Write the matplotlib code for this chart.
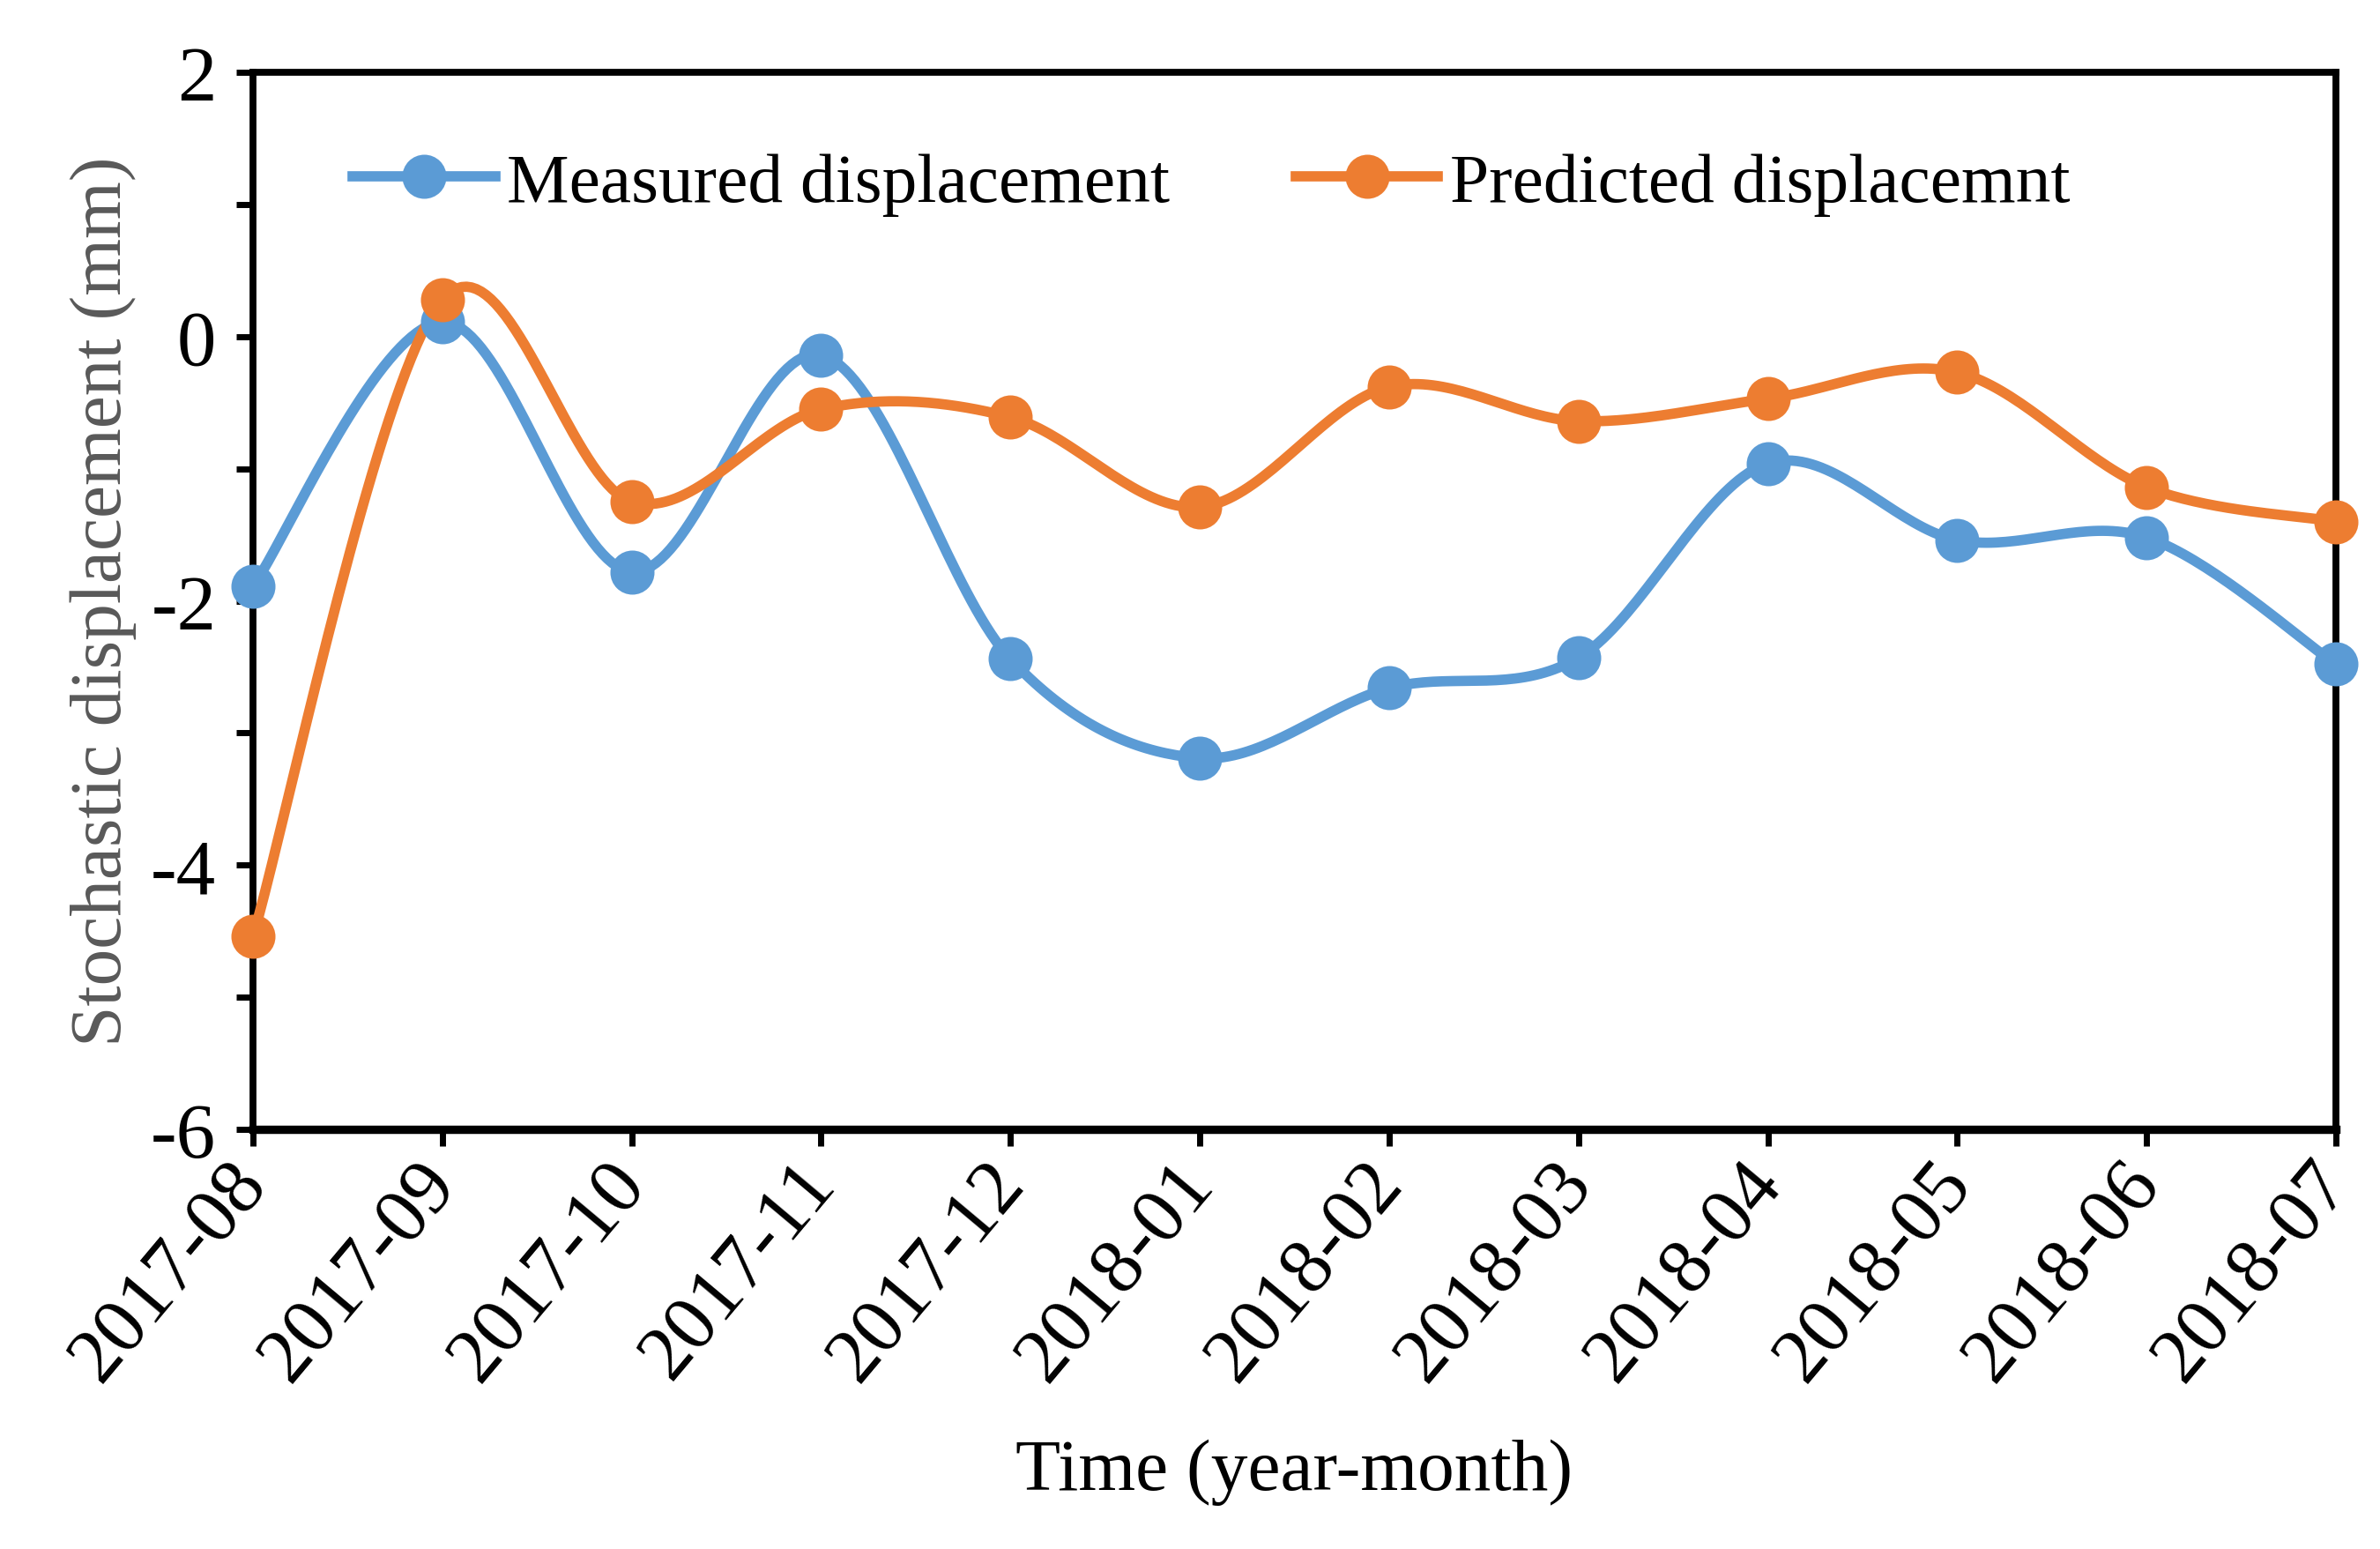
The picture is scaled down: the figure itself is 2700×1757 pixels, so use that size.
import numpy as np
import matplotlib
matplotlib.use("Agg")
import matplotlib.pyplot as plt
from matplotlib.lines import Line2D

months = ["2017-08", "2017-09", "2017-10", "2017-11", "2017-12", "2018-01",
          "2018-02", "2018-03", "2018-04", "2018-05", "2018-06", "2018-07"]
measured = [-1.89, 0.11, -1.78, -0.14, -2.44, -3.19, -2.66, -2.43, -0.96, -1.54, -1.52, -2.48]
predicted = [-4.54, 0.28, -1.25, -0.55, -0.61, -1.29, -0.38, -0.64, -0.47, -0.27, -1.14, -1.40]

blue = "#5B9BD5"
orange = "#ED7D31"


# Excel-like smoothed line (Catmull-Rom through the points)
def smooth(x, y, n=40):
    x = np.asarray(x, float)
    y = np.asarray(y, float)
    px = np.concatenate([[x[0]], x, [x[-1]]])
    py = np.concatenate([[y[0]], y, [y[-1]]])
    xs, ys = [], []
    t = np.linspace(0, 1, n)
    for i in range(1, len(px) - 2):
        p0 = np.array([px[i], py[i]])
        p3 = np.array([px[i + 1], py[i + 1]])
        c1 = p0 + (p3 - np.array([px[i - 1], py[i - 1]])) / 6
        c2 = p3 - (np.array([px[i + 2], py[i + 2]]) - p0) / 6
        b = (((1 - t) ** 3)[:, None] * p0 + (3 * (1 - t) ** 2 * t)[:, None] * c1
             + (3 * (1 - t) * t ** 2)[:, None] * c2 + (t ** 3)[:, None] * p3)
        xs.append(b[:, 0])
        ys.append(b[:, 1])
    return np.concatenate(xs), np.concatenate(ys)


plt.rcParams["font.family"] = ["Liberation Serif", "DejaVu Serif"]
plt.rcParams["axes.unicode_minus"] = False

fig = plt.figure(figsize=(13.5, 8.79), dpi=200)
ax = fig.add_axes([0.1063, 0.2707, 0.8752, 0.6821])

x = np.arange(len(months))
for vals, col in ((measured, blue), (predicted, orange)):
    sx, sy = smooth(x, vals)
    ax.plot(sx, sy, color=col, lw=4.2, solid_capstyle="round", clip_on=False, zorder=3)
    ax.plot(x, vals, "o", color=col, ms=17, clip_on=False, zorder=4)

ax.set_xlim(0, len(months) - 1)
ax.set_ylim(-6, 2)
ax.set_yticks([-6, -4, -2, 0, 2])
ax.set_yticks([-5, -3, -1, 1], minor=True)
ax.set_xticks(x)
ax.set_xticklabels(months, rotation=50, ha="right", va="center", rotation_mode="anchor")

ax.tick_params(axis="both", which="both", direction="out", width=2.5, length=7,
               colors="black")
ax.tick_params(axis="x", pad=10, labelsize=32)
ax.tick_params(axis="y", pad=8, labelsize=32)
for s in ax.spines.values():
    s.set_linewidth(2.8)
ax.spines["bottom"].set_linewidth(3.4)

ax.set_xlabel("Time (year-month)", fontsize=30, labelpad=18)
ax.set_ylabel("Stochastic displacement (mm)", fontsize=30, color="#595959", labelpad=6)

handles = [Line2D([], [], color=blue, lw=4.2, marker="o", ms=17),
           Line2D([], [], color=orange, lw=4.2, marker="o", ms=17)]
ax.legend(handles, ["Measured displacement", "Predicted displacemnt"], loc="upper left",
          bbox_to_anchor=(0.048, 0.925), borderaxespad=0, borderpad=0, ncol=2,
          frameon=False, fontsize=28.6,
          handlelength=2.03, columnspacing=1.8, handletextpad=0.17)

fig.savefig("out.png", dpi=200)
